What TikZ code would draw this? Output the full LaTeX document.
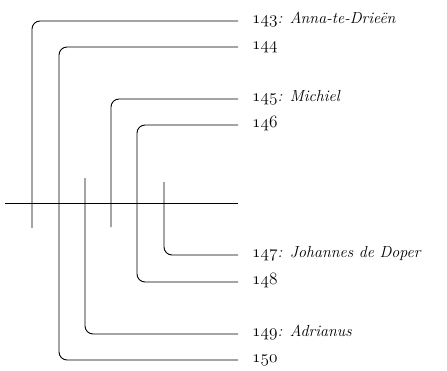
\documentclass[tikz,border=0pt]{standalone}
\usepackage{tikz}
\newcommand{\osn}[1]{{\fontencoding{OML}\fontfamily{cmm}\fontseries{m}\fontshape{it}\selectfont #1}}
\begin{document}
\begin{tikzpicture}[x=1pt,y=-1pt,
  conn/.style={line width=0.9pt,rounded corners=8pt},
  lbl/.style={anchor=mid west,inner sep=0pt,font=\fontsize{16}{18}\selectfont\itshape}]
\useasboundingbox (0,0) rectangle (447,370);
% label nodes
\node[lbl] (l143) at (252,21) {\osn{143}: Anna-te-Drieën};
\node[lbl] (l144) at (252,47) {\osn{144}};
\node[lbl] (l145) at (252,99) {\osn{145}: Michiel};
\node[lbl] (l146) at (252,125) {\osn{146}};
\node[lbl] (l147) at (252,255) {\osn{147}: Johannes de Doper};
\node[lbl] (l148) at (252,282) {\osn{148}};
\node[lbl] (l149) at (252,334) {\osn{149}: Adrianus};
\node[lbl] (l150) at (252,360) {\osn{150}};
% line end coordinates
\foreach \n/\y in {143/21,144/47,145/99,146/125,147/255,148/282,149/334,150/360}
  \coordinate (e\n) at (238,\y);
\coordinate (hl) at (5,203);
\coordinate (hr) at (238,203);
\coordinate (f143) at (32,228);
\coordinate (f145) at (111,227);
\coordinate (f147) at (164,182);
\coordinate (f149) at (85,178);
\coordinate (v144) at (59,200);
\coordinate (v146) at (137,200);
% connectors
\draw[conn] (hl) -- (hr);
\draw[conn] (e143) -| (f143);
\draw[conn] (e144) -| (v144) |- (e150);
\draw[conn] (e145) -| (f145);
\draw[conn] (e146) -| (v146) |- (e148);
\draw[conn] (f147) |- (e147);
\draw[conn] (f149) |- (e149);
\end{tikzpicture}
\end{document}
